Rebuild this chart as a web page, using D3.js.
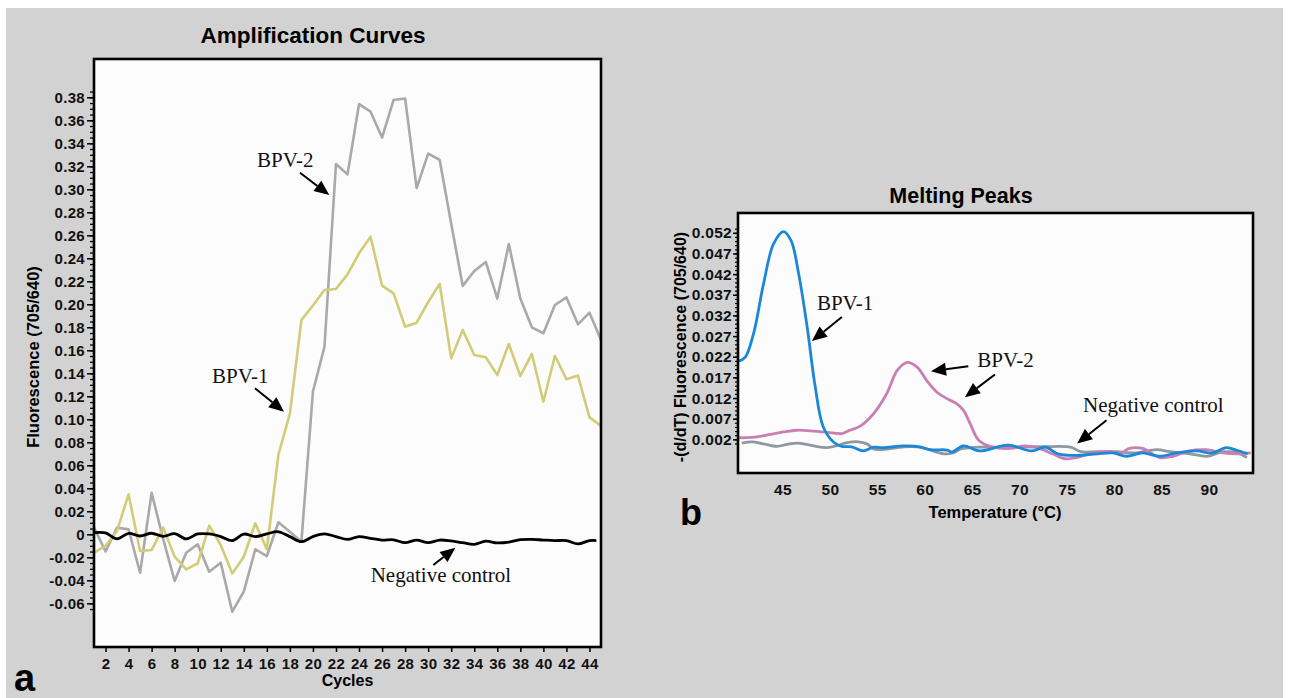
<!DOCTYPE html>
<html>
<head>
<meta charset="utf-8">
<script src="https://cdn.jsdelivr.net/npm/d3@7"></script>
<style>
  body { margin: 0; background: #fff; }
  svg { display: block; }
  .tick text { font-family: "Liberation Sans", Arial, Helvetica, sans-serif; font-weight: bold; fill: #111; letter-spacing: 0.3px; }
</style>
</head>
<body>
<div id="chart"></div>
<script>
// ---- Amplification curves (panel a) ----
const cycles = [1,2,3,4,5,6,7,8,9,10,11,12,13,14,15,16,17,18,19,20,21,22,23,24,25,26,27,28,29,30,
                31,32,33,34,35,36,37,38,39,40,41,42,43,44,45];
const ampBPV2 = [0.006,-0.015,0.0058,0.0043,-0.0334,0.036,-0.004,-0.0406,-0.016,-0.0087,
                 -0.0325,-0.0247,-0.0673,-0.0499,-0.013,-0.0189,0.0104,0.0023,-0.0064,0.124,
                 0.163,0.322,0.313,0.374,0.3675,0.345,0.3777,0.379,0.301,0.331,
                 0.3255,0.27,0.216,0.229,0.2368,0.205,0.2524,0.205,0.18,0.1748,
                 0.1994,0.206,0.1826,0.1927,0.169];
const ampBPV1 = [-0.016,-0.01,0.0029,0.0348,-0.0145,-0.0137,0.0058,-0.0195,-0.0305,-0.0252,
                 0.0075,-0.0093,-0.034,-0.0195,0.0096,-0.013,0.069,0.105,0.1863,0.199,
                 0.2124,0.2133,0.226,0.2443,0.2588,0.2162,0.2095,0.1805,0.184,0.202,
                 0.2177,0.153,0.1777,0.1559,0.1539,0.1385,0.1655,0.1377,0.1568,0.1153,
                 0.1553,0.1348,0.138,0.1017,0.0942];
const negCycles = [1,2,3,4,5,6,7,8,9,10,11,12,13,14,15,16,17,18,19,20,21,22,23,24,25,26,27,28,29,30,
                   31,32,33,34,35,36,37,38,39,40,41,42,43,44,44.6];
const ampNeg = [0.0014,0.0012,-0.004,0.0008,-0.0015,0.0009,-0.0018,0.0006,-0.004,0.0003,
                0.0003,-0.002,-0.0055,0.0002,-0.002,0.0004,0.0022,-0.002,-0.0064,-0.002,
                0.0004,-0.002,-0.0045,-0.002,-0.0035,-0.005,-0.0048,-0.0073,-0.005,-0.0072,
                -0.005,-0.0058,-0.0073,-0.0087,-0.006,-0.0075,-0.0068,-0.0047,-0.0044,-0.005,
                -0.0055,-0.0055,-0.0084,-0.0055,-0.0055];
const ampYTicks = [-0.06,-0.04,-0.02,0,0.02,0.04,0.06,0.08,0.10,0.12,0.14,0.16,0.18,0.20,
                   0.22,0.24,0.26,0.28,0.30,0.32,0.34,0.36,0.38];
const ampYLabels = ["-0.06","-0.04","-0.02","0","0.02","0.04","0.06","0.08","0.10","0.12","0.14",
                    "0.16","0.18","0.20","0.22","0.24","0.26","0.28","0.30","0.32","0.34","0.36","0.38"];
const ampXTicks = [2,4,6,8,10,12,14,16,18,20,22,24,26,28,30,32,34,36,38,40,42,44];

// ---- Melting peaks (panel b) ----
const meltT_BPV1 = [40.36,41.07,41.94,43.0,44.05,45.1,45.9,46.7,47.6,48.45,49.3,50.4,51.26,52.3,53.5,
                    54.6,55.6,57.75,59.5,60.6,62.4,62.85,64.1,65.8,68.8,71.3,72.7,74.1,75.7,78.2,
                    79.9,81.3,83.0,84.8,86.6,88.7,90.4,91.8,93.0,94.1];
const meltV_BPV1 = [0.0209,0.0219,0.0276,0.0397,0.0493,0.0523,0.0501,0.0421,0.0292,0.0147,
                    0.005,0.0013,0.0003,0.0002,-0.0008,0.0001,0.0000,0.0004,0.0002,-0.0005,
                    -0.0006,-0.0011,0.0004,-0.0008,0.0006,-0.0008,0.0001,-0.0015,-0.0019,-0.0015,
                    -0.0013,-0.0021,-0.0013,-0.0021,-0.0013,-0.0008,-0.0013,0.0000,-0.0007,-0.0015];
const meltT_BPV2 = [40.36,41.2,42.3,43.7,45.1,46.5,48.3,49.7,51.26,52.1,53.2,54.6,56.0,57.1,58.1,
                    59.2,60.2,61.3,62.4,63.4,64.1,64.8,65.7,67.2,69.0,70.7,72.1,73.5,74.8,76.0,
                    77.8,79.5,80.6,81.6,83.0,84.8,86.2,87.9,89.7,91.5,93.2,94.4];
const meltV_BPV2 = [0.0024,0.0024,0.0026,0.0032,0.0038,0.0042,0.0040,0.0037,0.0034,0.0042,
                    0.0052,0.0082,0.0131,0.0187,0.0206,0.0195,0.0163,0.0134,0.0118,0.0106,
                    0.009,0.0058,0.0018,0.0001,-0.0002,0.0004,-0.0002,-0.0015,-0.0027,-0.0024,
                    -0.0013,-0.0010,-0.0015,-0.0002,-0.0002,-0.0024,-0.0021,-0.0008,-0.0005,-0.0013,
                    -0.0015,-0.0013];
const meltT_Neg = [40.7,41.8,43.0,44.4,45.5,46.7,48.3,49.7,50.9,51.8,53.0,53.9,54.6,55.6,57.8,
                   59.2,60.2,62.0,63.0,63.8,64.8,65.8,68.8,72.3,75.4,76.5,78.2,80.3,82.0,84.5,
                   85.9,88.0,89.8,91.5,93.0,94.0];
const meltV_Neg = [0.0011,0.0014,0.0009,0.0003,0.0008,0.0011,0.0004,0.0000,0.0006,0.0012,
                   0.0014,0.0009,-0.0003,-0.0005,0.0002,0.0002,-0.0003,-0.0015,-0.0013,-0.0003,
                   0.0000,0.0001,0.0001,0.0002,0.0001,-0.0010,-0.0010,-0.0010,-0.0013,-0.0005,
                   -0.0010,-0.0015,-0.0021,-0.0010,-0.0013,-0.0024];
const meltYTicks = [0.002,0.007,0.012,0.017,0.022,0.027,0.032,0.037,0.042,0.047,0.052];
const meltYLabels = ["0.002","0.007","0.012","0.017","0.022","0.027","0.032","0.037","0.042","0.047","0.052"];
const meltXTicks = [45,50,55,60,65,70,75,80,85,90];

const SANS = "'Liberation Sans', Arial, Helvetica, sans-serif";
const SERIF = "'Liberation Serif', 'Times New Roman', serif";

const svg = d3.select("#chart").append("svg").attr("width", 1291).attr("height", 698);
svg.append("rect").attr("x", 6).attr("y", 8).attr("width", 1277).attr("height", 690).attr("fill", "#d2d2d2");
svg.append("defs").call(d => {
  d.append("clipPath").attr("id", "clipA").append("rect").attr("x", 94).attr("y", 59).attr("width", 507).attr("height", 588);
  d.append("clipPath").attr("id", "clipB").append("rect").attr("x", 738).attr("y", 213).attr("width", 515).attr("height", 260);
});

function arrow(g, x1, y1, x2, y2) {
  const a = Math.atan2(y2 - y1, x2 - x1), L = 15, w = 6.5;
  const bx = x2 - L * Math.cos(a), by = y2 - L * Math.sin(a);
  g.append("line").attr("x1", x1).attr("y1", y1).attr("x2", bx).attr("y2", by)
    .attr("stroke", "#000").attr("stroke-width", 2);
  g.append("path")
    .attr("d", `M${x2},${y2}L${bx + w * Math.sin(a)},${by - w * Math.cos(a)}L${bx - w * Math.sin(a)},${by + w * Math.cos(a)}Z`)
    .attr("fill", "#000");
}

function label(g, x, y, txt) {
  g.append("text").attr("x", x).attr("y", y).text(txt)
    .attr("font-family", SERIF).attr("font-size", 21).attr("fill", "#111");
}

// ================= Panel a =================
const xA = d3.scaleLinear().domain([1, 45]).range([94, 601]);
const yA = d3.scaleLinear().domain([-0.098, 0.4133]).range([647, 59]);
const gA = svg.append("g");

gA.append("rect").attr("x", 94).attr("y", 59).attr("width", 507).attr("height", 588)
  .attr("fill", "#fcfcfc");

// minor ticks on y
gA.append("g").attr("transform", "translate(94,0)")
  .call(d3.axisLeft(yA).tickValues(d3.range(-0.065, 0.3851, 0.005)).tickSize(4).tickFormat(""))
  .call(g => g.select(".domain").remove())
  .selectAll("line").attr("stroke", "#000").attr("stroke-width", 1.3);

gA.append("g").attr("transform", "translate(94,0)")
  .call(d3.axisLeft(yA).tickValues(ampYTicks).tickSize(7).tickPadding(2)
        .tickFormat((d, i) => ampYLabels[i]))
  .call(g => g.select(".domain").remove())
  .call(g => g.selectAll("line").attr("stroke", "#000").attr("stroke-width", 1.5))
  .call(g => g.selectAll("text").attr("font-size", 15));

gA.append("g").attr("transform", "translate(0,647)")
  .call(d3.axisBottom(xA).tickValues(ampXTicks).tickSize(5).tickPadding(6))
  .call(g => g.select(".domain").remove())
  .call(g => g.selectAll("line").attr("stroke", "#000").attr("stroke-width", 1.5))
  .call(g => g.selectAll("text").attr("font-size", 15));

const lineA = (vals, xs) => d3.line().x((d, i) => xA(xs[i])).y(d => yA(d))(vals);
const curvesA = gA.append("g").attr("clip-path", "url(#clipA)");
curvesA.append("path").attr("d", lineA(ampBPV2, cycles)).attr("fill", "none")
  .attr("stroke", "#a9a9a9").attr("stroke-width", 2.6).attr("stroke-linejoin", "round");
curvesA.append("path").attr("d", lineA(ampBPV1, cycles)).attr("fill", "none")
  .attr("stroke", "#d2cc78").attr("stroke-width", 2.6).attr("stroke-linejoin", "round");
curvesA.append("path")
  .attr("d", d3.line().curve(d3.curveCatmullRom.alpha(0.5)).x((d, i) => xA(negCycles[i])).y(d => yA(d))(ampNeg))
  .attr("fill", "none").attr("stroke", "#000").attr("stroke-width", 2.8);

gA.append("rect").attr("x", 94).attr("y", 59).attr("width", 507).attr("height", 588)
  .attr("fill", "none").attr("stroke", "#000").attr("stroke-width", 2.6);

// annotations (data coordinates)
label(gA, xA(15.15), yA(0.3194), "BPV-2");
arrow(gA, xA(18.88), yA(0.3144), xA(21.42), yA(0.2950));
label(gA, xA(11.24), yA(0.1318), "BPV-1");
arrow(gA, xA(14.97), yA(0.127), xA(17.49), yA(0.1066));
label(gA, xA(25.01), yA(-0.0412), "Negative control");
arrow(gA, xA(30.45), yA(-0.0267), xA(32.36), yA(-0.0117));

gA.append("text").attr("x", 313).attr("y", 43).attr("text-anchor", "middle")
  .attr("font-family", SANS).attr("font-weight", "bold").attr("font-size", 22.5).text("Amplification Curves");
gA.append("text").attr("x", 347.5).attr("y", 686).attr("text-anchor", "middle")
  .attr("font-family", SANS).attr("font-weight", "bold").attr("font-size", 16).text("Cycles");
gA.append("text").attr("transform", "translate(39,357) rotate(-90)").attr("text-anchor", "middle")
  .attr("font-family", SANS).attr("font-weight", "bold").attr("font-size", 16.5).text("Fluorescence (705/640)");
gA.append("text").attr("x", 14).attr("y", 691)
  .attr("font-family", SANS).attr("font-weight", 900).attr("font-size", 38).text("a");

// ================= Panel b =================
const xB = d3.scaleLinear().domain([40.3, 94.65]).range([738, 1253]);
const yB = d3.scaleLinear().domain([-0.00615, 0.0568]).range([473, 213]);
const gB = svg.append("g");

gB.append("rect").attr("x", 738).attr("y", 213).attr("width", 515).attr("height", 260)
  .attr("fill", "#fcfcfc");

gB.append("g").attr("transform", "translate(738,0)")
  .call(d3.axisLeft(yB).tickValues(d3.range(0.001, 0.0531, 0.001)).tickSize(3).tickFormat(""))
  .call(g => g.select(".domain").remove())
  .selectAll("line").attr("stroke", "#000").attr("stroke-width", 1.2);

gB.append("g").attr("transform", "translate(738,0)")
  .call(d3.axisLeft(yB).tickValues(meltYTicks).tickSize(5).tickPadding(1)
        .tickFormat((d, i) => meltYLabels[i]))
  .call(g => g.select(".domain").remove())
  .call(g => g.selectAll("line").attr("stroke", "#000").attr("stroke-width", 1.5))
  .call(g => g.selectAll("text").attr("font-size", 15.5));

gB.append("g").attr("transform", "translate(0,473)")
  .call(d3.axisBottom(xB).tickValues(meltXTicks).tickSize(0).tickPadding(11))
  .call(g => g.select(".domain").remove())
  .call(g => g.selectAll("text").attr("font-size", 15.5));

const lineB = (ts, vs) => d3.line().curve(d3.curveCatmullRom.alpha(0.5))
  .x((d, i) => xB(ts[i])).y(d => yB(d))(vs);
const curvesB = gB.append("g").attr("clip-path", "url(#clipB)");
curvesB.append("path").attr("d", lineB(meltT_Neg, meltV_Neg)).attr("fill", "none")
  .attr("stroke", "#8f989f").attr("stroke-width", 2.8);
curvesB.append("path").attr("d", lineB(meltT_BPV2, meltV_BPV2)).attr("fill", "none")
  .attr("stroke", "#c97fb4").attr("stroke-width", 2.8);
curvesB.append("path").attr("d", lineB(meltT_BPV1, meltV_BPV1)).attr("fill", "none")
  .attr("stroke", "#1b87d9").attr("stroke-width", 2.8);

gB.append("rect").attr("x", 738).attr("y", 213).attr("width", 515).attr("height", 260)
  .attr("fill", "none").attr("stroke", "#000").attr("stroke-width", 2.6);

label(gB, xB(48.63), yB(0.0332), "BPV-1");
arrow(gB, xB(51.26), yB(0.0316), xB(48.10), yB(0.0258));
label(gB, xB(65.55), yB(0.0195), "BPV-2");
arrow(gB, xB(64.6), yB(0.0197), xB(60.67), yB(0.0185));
arrow(gB, xB(67.42), yB(0.0177), xB(64.25), yB(0.0122));
label(gB, xB(76.72), yB(0.0086), "Negative control");
arrow(gB, xB(79.19), yB(0.0066), xB(76.09), yB(0.001));

gB.append("text").attr("x", 961).attr("y", 203).attr("text-anchor", "middle")
  .attr("font-family", SANS).attr("font-weight", "bold").attr("font-size", 21.5).text("Melting Peaks");
gB.append("text").attr("x", 995).attr("y", 518).attr("text-anchor", "middle")
  .attr("font-family", SANS).attr("font-weight", "bold").attr("font-size", 16.5).text("Temperature (°C)");
gB.append("text").attr("transform", "translate(686,347) rotate(-90)").attr("text-anchor", "middle")
  .attr("font-family", SANS).attr("font-weight", "bold").attr("font-size", 16).text("-(d/dT) Fluorescence (705/640)");
gB.append("text").attr("x", 680).attr("y", 525)
  .attr("font-family", SANS).attr("font-weight", 900).attr("font-size", 36).text("b");
</script>
</body>
</html>
